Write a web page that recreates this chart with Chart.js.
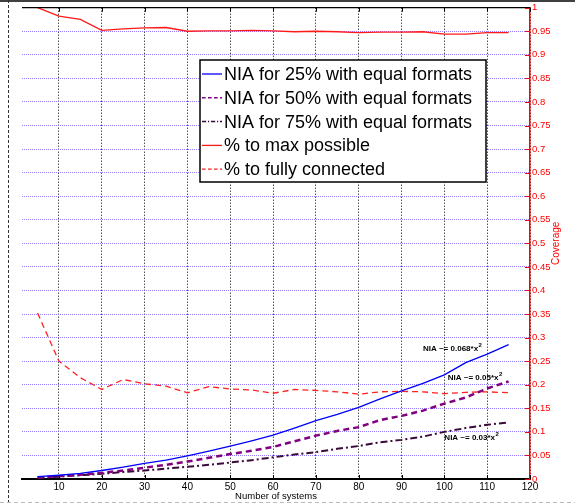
<!DOCTYPE html>
<html>
<head>
<meta charset="utf-8">
<script src="https://cdn.jsdelivr.net/npm/chart.js@4.4.1/dist/chart.umd.min.js"></script>
<style>
  html, body { margin: 0; padding: 0; background: #fff; }
</style>
</head>
<body>
<canvas id="chart" width="575" height="504"></canvas>
<script>
// number of systems (x)
const systems = [5, 10, 15, 20, 25, 30, 35, 40, 45, 50, 55, 60, 65, 70, 75, 80, 85, 90, 95, 100, 105, 110, 115];

// NIA curves, read against the coverage axis
const nia25 = [0.005, 0.008, 0.012, 0.018, 0.025, 0.033, 0.040, 0.049, 0.059, 0.070, 0.081, 0.093, 0.108, 0.124, 0.137, 0.152, 0.170, 0.187, 0.203, 0.221, 0.247, 0.265, 0.285];
const nia50 = [0.003, 0.006, 0.009, 0.013, 0.018, 0.024, 0.030, 0.037, 0.045, 0.053, 0.060, 0.068, 0.080, 0.092, 0.102, 0.110, 0.125, 0.134, 0.145, 0.160, 0.173, 0.192, 0.207];
const nia75 = [0.002, 0.005, 0.008, 0.011, 0.015, 0.018, 0.022, 0.026, 0.030, 0.035, 0.040, 0.046, 0.052, 0.057, 0.064, 0.070, 0.078, 0.083, 0.090, 0.100, 0.108, 0.115, 0.120];

// coverage curves
const maxPossible = [1.0, 0.982, 0.975, 0.952, 0.955, 0.957, 0.958, 0.950, 0.951, 0.951, 0.952, 0.951, 0.949, 0.950, 0.949, 0.947, 0.948, 0.948, 0.949, 0.944, 0.944, 0.947, 0.947];
const fullyConnected = [0.352, 0.250, 0.215, 0.190, 0.211, 0.202, 0.197, 0.183, 0.196, 0.191, 0.189, 0.182, 0.190, 0.188, 0.185, 0.180, 0.185, 0.186, 0.185, 0.181, 0.184, 0.185, 0.183];

const xTicks = [10, 20, 30, 40, 50, 60, 70, 80, 90, 100, 110, 120];
const yTicks = [0, 0.05, 0.1, 0.15, 0.2, 0.25, 0.3, 0.35, 0.4, 0.45, 0.5, 0.55, 0.6, 0.65, 0.7, 0.75, 0.8, 0.85, 0.9, 0.95, 1];

// fit annotations (text, anchor in data units)
const fitNotes = [
    { text: 'NIA ~= 0.068*x', x: 95, y: 0.276 },
    { text: 'NIA ~= 0.05*x', x: 100.8, y: 0.214 },
    { text: 'NIA ~= 0.03*x', x: 100, y: 0.087 }
];

const FONT = '"Liberation Sans", Arial, Helvetica, sans-serif';

function pts(values) {
    return systems.map((s, i) => ({ x: s, y: values[i] }));
}

// extra drawing: inward ticks, frame, notes, legend box, axis title
const decor = {
    id: 'decor',
    afterDraw(chart) {
        const { ctx, chartArea: a, scales: { x, y } } = chart;
        ctx.save();

        // top frame
        ctx.strokeStyle = '#000';
        ctx.lineWidth = 1.2;
        ctx.beginPath();
        ctx.moveTo(a.left, a.top);
        ctx.lineTo(a.right, a.top);
        ctx.stroke();

        // inward x ticks
        ctx.lineWidth = 1;
        xTicks.forEach(v => {
            const px = Math.round(x.getPixelForValue(v)) + 0.5;
            ctx.beginPath();
            ctx.moveTo(px, a.bottom);
            ctx.lineTo(px, a.bottom - 4);
            ctx.moveTo(px, a.top);
            ctx.lineTo(px, a.top + 4);
            ctx.stroke();
        });

        // inward y ticks (red)
        ctx.strokeStyle = '#ff0000';
        yTicks.forEach(v => {
            const py = Math.round(y.getPixelForValue(v)) + 0.5;
            ctx.beginPath();
            ctx.moveTo(a.right - 5, py);
            ctx.lineTo(a.right, py);
            ctx.stroke();
        });

        // fit notes with superscript 2
        ctx.fillStyle = '#000';
        ctx.textBaseline = 'middle';
        ctx.textAlign = 'left';
        fitNotes.forEach(n => {
            const px = x.getPixelForValue(n.x);
            const py = y.getPixelForValue(n.y);
            ctx.font = 'bold 8px ' + FONT;
            ctx.fillText(n.text, px, py);
            const w = ctx.measureText(n.text).width;
            ctx.font = 'bold 6px ' + FONT;
            ctx.fillText('2', px + w + 0.5, py - 4);
        });

        // legend box
        const lx = 200, ly = 60, lw = 286, lh = 122;
        ctx.fillStyle = '#fff';
        ctx.fillRect(lx, ly, lw, lh);
        ctx.strokeStyle = '#000';
        ctx.lineWidth = 1.5;
        ctx.strokeRect(lx, ly, lw, lh);
        ctx.font = '18px ' + FONT;
        chart.data.datasets.forEach((ds, i) => {
            const ry = ly + 14 + i * 23.8;
            ctx.save();
            ctx.strokeStyle = ds.borderColor;
            ctx.lineWidth = Math.min(ds.borderWidth, 1.5);
            ctx.setLineDash(ds.borderDash ? ds.borderDash.map(d => d * 0.6) : []);
            ctx.beginPath();
            ctx.moveTo(lx + 2, ry);
            ctx.lineTo(lx + 22, ry);
            ctx.stroke();
            ctx.restore();
            ctx.fillStyle = '#000';
            ctx.fillText(ds.label, lx + 24, ry + 1);
        });

        // right axis title, reading upward
        ctx.save();
        ctx.translate(556, (a.top + a.bottom) / 2);
        ctx.rotate(-Math.PI / 2);
        ctx.textAlign = 'center';
        ctx.fillStyle = '#ff0000';
        ctx.font = '10px ' + FONT;
        ctx.fillText('Coverage', 0, 0);
        ctx.restore();

        // crop edges of the original figure
        ctx.strokeStyle = '#000';
        ctx.lineWidth = 1.5;
        ctx.beginPath();
        ctx.moveTo(0, 1);
        ctx.lineTo(575, 1);
        ctx.stroke();
        ctx.lineWidth = 1;
        ctx.strokeStyle = '#333';
        ctx.setLineDash([3, 2]);
        ctx.beginPath();
        ctx.moveTo(8.5, 0);
        ctx.lineTo(8.5, 504);
        ctx.stroke();
        ctx.strokeStyle = '#bbb';
        ctx.setLineDash([4, 3]);
        ctx.beginPath();
        ctx.moveTo(0, 502.5);
        ctx.lineTo(575, 502.5);
        ctx.stroke();

        ctx.restore();
    }
};

const ctx = document.getElementById('chart').getContext('2d');
new Chart(ctx, {
    type: 'line',
    data: {
        datasets: [
            { label: 'NIA for 25% with equal formats', data: pts(nia25), borderColor: '#0000ff', borderWidth: 1.3 },
            { label: 'NIA for 50% with equal formats', data: pts(nia50), borderColor: '#800080', borderWidth: 2.5, borderDash: [6, 4] },
            { label: 'NIA for 75% with equal formats', data: pts(nia75), borderColor: '#3a0a3a', borderWidth: 2, borderDash: [7, 3, 2, 3] },
            { label: '% to max possible', data: pts(maxPossible), borderColor: '#ff1a1a', borderWidth: 1.3 },
            { label: '% to fully connected', data: pts(fullyConnected), borderColor: '#ff2020', borderWidth: 1.3, borderDash: [6, 4] }
        ]
    },
    options: {
        responsive: false,
        animation: false,
        devicePixelRatio: 1,
        elements: { point: { radius: 0 }, line: { tension: 0, fill: false } },
        layout: { padding: { left: 22, top: 7, right: 0, bottom: 0 } },
        plugins: { legend: { display: false }, tooltip: { enabled: false } },
        scales: {
            x: {
                type: 'linear',
                min: 1.37,
                max: 120,
                afterBuildTicks: s => { s.ticks = xTicks.map(v => ({ value: v })); },
                afterFit: s => { s.height = 25; },
                grid: { color: '#000', lineWidth: 1, drawTicks: false },
                border: { color: '#000', width: 2, dash: [1, 2] },
                ticks: { color: '#000', font: { family: FONT, size: 10 }, padding: 2, maxRotation: 0 },
                title: { display: true, text: 'Number of systems', color: '#000', font: { family: FONT, size: 9.5 }, padding: { top: 0, bottom: 2 } }
            },
            y: {
                position: 'right',
                min: 0,
                max: 1,
                afterBuildTicks: s => { s.ticks = yTicks.map(v => ({ value: v })); },
                afterFit: s => { s.width = 45; },
                grid: { color: 'rgba(120, 90, 255, 0.8)', lineWidth: 1, drawTicks: false },
                border: { color: '#ff0000', width: 1.5, dash: [1, 1] },
                ticks: {
                    color: '#ff0000',
                    font: { family: FONT, size: 9.5 },
                    padding: 2,
                    callback: v => String(+v.toFixed(2))
                }
            }
        }
    },
    plugins: [decor]
});
</script>
</body>
</html>
